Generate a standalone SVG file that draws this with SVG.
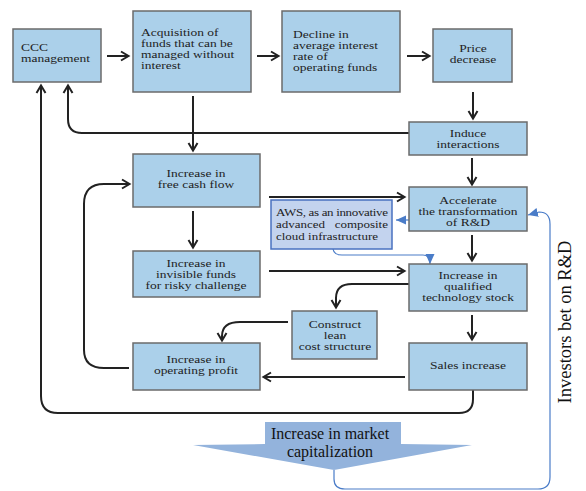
<svg xmlns="http://www.w3.org/2000/svg" width="586" height="491" viewBox="0 0 586 491" font-family="'Liberation Serif', serif">
<style>
.box{fill:#abd0ea;stroke:#6b6b6b;stroke-width:1.5}
.aws{fill:#c3d3ee;stroke:#4a72c0;stroke-width:1.5}
text{font-family:'Liberation Serif','Times New Roman',serif;font-size:13.5px;fill:#1e1e1e}
.c{text-anchor:middle}
.k{fill:none;stroke:#222;stroke-width:2}
.b{fill:none;stroke:#4a7cc8;stroke-width:1.2}
.big{font-size:16px;fill:#111}
.inv{font-size:18.5px;fill:#111}
</style>
<defs>
<marker id="ah" markerUnits="userSpaceOnUse" markerWidth="12" markerHeight="12" refX="9" refY="6" orient="auto">
<path d="M2,1.5 L9.5,6 L2,10.5" fill="none" stroke="#222" stroke-width="2"/>
</marker>
<marker id="bh" markerUnits="userSpaceOnUse" markerWidth="12" markerHeight="12" refX="10" refY="6" orient="auto">
<path d="M0,1.5 L10,6 L0,10.5 Z" fill="#4a7cc8"/>
</marker>
</defs>
<g id="connectors">
<path class="k" d="M107,56 H128" marker-end="url(#ah)"/>
<path class="k" d="M257,56 H278" marker-end="url(#ah)"/>
<path class="k" d="M407,56 H429" marker-end="url(#ah)"/>
<path class="k" d="M473,92 V118" marker-end="url(#ah)"/>
<path class="k" d="M409,133 H82 Q68,133 68,119 V86" marker-end="url(#ah)"/>
<path class="k" d="M473,390 V399 Q473,413 459,413 H58 Q41,413 41,396 V86" marker-end="url(#ah)"/>
<path class="k" d="M193,96 V150" marker-end="url(#ah)"/>
<path class="k" d="M193,211 V247" marker-end="url(#ah)"/>
<path class="k" d="M269,197 H404" marker-end="url(#ah)"/>
<path class="k" d="M269,271 H404" marker-end="url(#ah)"/>
<path class="k" d="M472,158 V184" marker-end="url(#ah)"/>
<path class="k" d="M472,235 V260" marker-end="url(#ah)"/>
<path class="k" d="M409,284 H352 Q336,284 336,298 V307" marker-end="url(#ah)"/>
<path class="k" d="M472,315 V339" marker-end="url(#ah)"/>
<path class="k" d="M288,322 H240 Q222,322 222,336 V340" marker-end="url(#ah)"/>
<path class="k" d="M405,377 H264" marker-end="url(#ah)"/>
<path class="k" d="M129,368 H104 Q84,368 84,350 V204 Q84,184 104,184 H129" marker-end="url(#ah)"/>
<path class="b" d="M409,220 H396" marker-end="url(#bh)"/>
<path class="b" d="M333,249 Q334,255 342,255 H423 Q430,255 430,264" marker-end="url(#bh)"/>
<path class="b" d="M334,470 V479 Q334,489 345,489 H538 Q550,489 550,477 V224 Q550,212 539,212 L528,215" marker-end="url(#bh)"/>
</g>
<g id="ccc"><rect class="box" x="13" y="29" width="88" height="53"/>
<text transform="translate(21,51) scale(1,0.74)"><tspan x="0" y="0">CCC</tspan><tspan x="0" dy="15">management</tspan></text></g>
<g id="acq"><rect class="box" x="133" y="11" width="118" height="81"/>
<text transform="translate(141,36) scale(1,0.74)"><tspan x="0" y="0">Acquisition of</tspan><tspan x="0" dy="15">funds that can be</tspan><tspan x="0" dy="15">managed without</tspan><tspan x="0" dy="15">interest</tspan></text></g>
<g id="decline"><rect class="box" x="282" y="11" width="118" height="81"/>
<text transform="translate(293,38) scale(1,0.74)"><tspan x="0" y="0">Decline in</tspan><tspan x="0" dy="15">average interest</tspan><tspan x="0" dy="15">rate of</tspan><tspan x="0" dy="15">operating funds</tspan></text></g>
<g id="price"><rect class="box" x="433" y="29" width="79" height="53"/>
<text class="c" transform="translate(473,52) scale(1,0.74)"><tspan x="0" y="0">Price</tspan><tspan x="0" dy="15">decrease</tspan></text></g>
<g id="induce"><rect class="box" x="409" y="122" width="118" height="33"/>
<text class="c" transform="translate(468,137) scale(1,0.74)"><tspan x="0" y="0">Induce</tspan><tspan x="0" dy="15">interactions</tspan></text></g>
<g id="fcf"><rect class="box" x="133" y="154" width="127" height="53"/>
<text class="c" transform="translate(196,177) scale(1,0.74)"><tspan x="0" y="0">Increase in</tspan><tspan x="0" dy="15">free cash flow</tspan></text></g>
<g id="invisible"><rect class="box" x="133" y="251" width="127" height="46"/>
<text class="c" transform="translate(196,266.5) scale(1,0.74)"><tspan x="0" y="0">Increase in</tspan><tspan x="0" dy="15">invisible funds</tspan><tspan x="0" dy="15">for risky challenge</tspan></text></g>
<g id="accel"><rect class="box" x="409" y="187" width="118" height="44"/>
<text class="c" transform="translate(468,203.5) scale(1,0.74)"><tspan x="0" y="0">Accelerate</tspan><tspan x="0" dy="15">the transformation</tspan><tspan x="0" dy="15">of R&amp;D</tspan></text></g>
<g id="aws"><rect class="aws" x="271" y="200" width="121" height="49"/>
<text style="font-size:13px" transform="translate(276,216) scale(1,0.85)"><tspan x="0" y="0" textLength="112" lengthAdjust="spacing">AWS, as an innovative</tspan><tspan x="0" dy="14.4">advanced</tspan><tspan x="112" y="14.4" text-anchor="end">composite</tspan><tspan x="0" dy="14.4">cloud infrastructure</tspan></text></g>
<g id="qualified"><rect class="box" x="409" y="264" width="118" height="47"/>
<text class="c" transform="translate(468,278.5) scale(1,0.74)"><tspan x="0" y="0">Increase in</tspan><tspan x="0" dy="15">qualified</tspan><tspan x="0" dy="15">technology stock</tspan></text></g>
<g id="lean"><rect class="box" x="292" y="311" width="85" height="48"/>
<text class="c" transform="translate(335,327.5) scale(1,0.74)"><tspan x="0" y="0">Construct</tspan><tspan x="0" dy="15">lean</tspan><tspan x="0" dy="15">cost structure</tspan></text></g>
<g id="sales"><rect class="box" x="409" y="343" width="118" height="47"/>
<text class="c" transform="translate(468,369) scale(1,0.74)">Sales increase</text></g>
<g id="profit"><rect class="box" x="133" y="343" width="127" height="47"/>
<text class="c" transform="translate(196,363) scale(1,0.74)"><tspan x="0" y="0">Increase in</tspan><tspan x="0" dy="15">operating profit</tspan></text></g>
<g id="market">
<polygon points="265,422 401,422 401,444 472,445 334,470 193,445 265,444" fill="#93b3dc"/>
<text class="c big" x="330" y="439">Increase in market</text>
<text class="c big" x="330" y="457">capitalization</text></g>
<g id="investors">
<text class="c inv" transform="translate(571,322) rotate(-90)">Investors bet on R&amp;D</text></g>
</svg>
